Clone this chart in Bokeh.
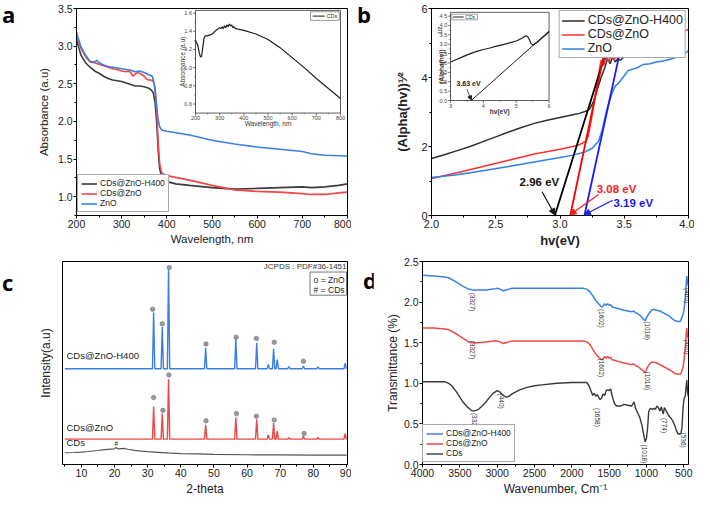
import math
from bokeh.plotting import figure
from bokeh.models import (Range1d, SingleIntervalTicker, FixedTicker, Legend, LegendItem, Label,
                          Arrow, NormalHead, PrintfTickFormatter, Div)
from bokeh.layouts import row, column
from bokeh.core.properties import value
from bokeh.embed import file_html
from bokeh.resources import INLINE

FONT = "Liberation Sans"
LETTER_FONT = "Open Sans"

# ---------------- Panel a : UV-Vis absorbance ----------------
a_wl_h400 = [200, 205, 210, 220, 230, 240, 250, 260, 270, 280, 290, 300, 310, 320, 330, 340, 350, 360, 365,
             370, 374, 378, 381, 384, 388, 392, 400, 420, 450, 500, 550, 600, 650, 700, 720, 750, 780, 800]
a_abs_h400 = [3.08, 2.98, 2.88, 2.78, 2.72, 2.67, 2.64, 2.60, 2.57, 2.55, 2.54, 2.53, 2.51, 2.49, 2.47, 2.47, 2.46,
              2.44, 2.42, 2.38, 2.25, 1.95, 1.60, 1.38, 1.27, 1.23, 1.20, 1.17, 1.15, 1.12, 1.10, 1.11, 1.12, 1.13,
              1.12, 1.13, 1.15, 1.17]
a_wl_cdzno = [200, 205, 210, 220, 230, 240, 250, 260, 270, 280, 290, 300, 310, 315, 320, 325, 330, 335, 340, 345,
              350, 355, 360, 365, 370, 374, 378, 381, 384, 388, 392, 400, 450, 500, 550, 600, 650, 700, 720, 750,
              780, 800]
a_abs_cdzno = [3.13, 3.05, 2.97, 2.86, 2.79, 2.78, 2.76, 2.74, 2.72, 2.70, 2.69, 2.67, 2.66, 2.67, 2.65, 2.60, 2.63,
               2.65, 2.64, 2.62, 2.60, 2.56, 2.55, 2.55, 2.53, 2.45, 2.10, 1.70, 1.45, 1.33, 1.30, 1.28, 1.22, 1.15,
               1.09, 1.07, 1.06, 1.04, 1.03, 1.03, 1.05, 1.06]
a_wl_zno = [200, 205, 210, 220, 230, 240, 245, 250, 260, 270, 280, 290, 300, 310, 320, 330, 340, 350, 360, 368, 372,
            376, 380, 384, 388, 392, 400, 420, 450, 500, 550, 600, 650, 700, 720, 750, 800]
a_abs_zno = [3.18, 3.08, 2.99, 2.88, 2.80, 2.79, 2.81, 2.78, 2.75, 2.73, 2.72, 2.71, 2.70, 2.69, 2.68, 2.66, 2.67,
             2.65, 2.62, 2.60, 2.50, 2.30, 2.05, 1.93, 1.89, 1.88, 1.87, 1.85, 1.82, 1.75, 1.70, 1.66, 1.63, 1.60,
             1.57, 1.55, 1.54]
# inset: CDs
a_in_wl = [200, 205, 210, 215, 220, 225, 230, 235, 240, 250, 260, 270, 280, 290, 300, 305, 310, 315, 320, 325, 330,
           335, 340, 345, 350, 355, 360, 365, 370, 380, 400, 450, 500, 550, 600, 650, 700, 750, 800]
a_in_abs = [1.30, 1.27, 1.24, 1.17, 1.12, 1.12, 1.22, 1.32, 1.35, 1.35, 1.36, 1.37, 1.40, 1.42, 1.44, 1.43, 1.45,
            1.43, 1.46, 1.44, 1.47, 1.45, 1.48, 1.46, 1.47, 1.44, 1.45, 1.43, 1.43, 1.42, 1.41, 1.37, 1.31, 1.22,
            1.11, 1.00, 0.88, 0.77, 0.66]
a_in_xticks = [200, 300, 400, 500, 600, 700, 800]
a_in_yticks = [0.6, 0.8, 1.0, 1.2, 1.4, 1.6]

# ---------------- Panel b : Tauc plot ----------------
b_hv_h400 = [2.0, 2.1, 2.2, 2.3, 2.4, 2.5, 2.6, 2.7, 2.8, 2.9, 3.0, 3.1, 3.15, 3.2, 3.23, 3.26, 3.29, 3.32, 3.35,
             3.37, 3.39, 3.41, 3.43, 3.45, 3.47, 3.5]
b_val_h400 = [1.65, 1.76, 1.88, 2.00, 2.14, 2.28, 2.42, 2.55, 2.67, 2.76, 2.84, 2.92, 2.96, 3.02, 3.08, 3.30, 3.65,
              4.00, 4.30, 4.55, 4.40, 4.60, 4.45, 4.55, 4.50, 4.60]
b_hv_cdzno = [2.0, 2.2, 2.4, 2.6, 2.8, 3.0, 3.1, 3.15, 3.2, 3.22, 3.25, 3.28, 3.3, 3.32, 3.34, 3.36, 3.38, 3.4,
              3.42, 3.45, 3.48, 3.5, 3.55, 3.6, 3.7, 3.8, 3.9, 4.0]
b_val_cdzno = [1.07, 1.24, 1.42, 1.60, 1.78, 1.92, 2.00, 2.05, 2.15, 2.30, 2.90, 3.60, 4.10, 4.50, 4.35, 4.60, 4.45,
               4.70, 4.50, 4.75, 4.60, 4.85, 4.80, 4.95, 5.00, 5.10, 5.25, 5.40]
b_hv_zno = [2.0, 2.2, 2.4, 2.6, 2.8, 3.0, 3.1, 3.2, 3.25, 3.3, 3.33, 3.36, 3.4, 3.43, 3.46, 3.5, 3.53, 3.6, 3.65,
            3.7, 3.75, 3.8, 3.85, 3.9, 3.95, 4.0]
b_val_zno = [1.10, 1.18, 1.30, 1.42, 1.55, 1.68, 1.75, 1.85, 1.95, 2.15, 2.50, 3.00, 3.50, 3.75, 3.85, 4.05, 4.20,
             4.28, 4.38, 4.40, 4.45, 4.48, 4.52, 4.58, 4.63, 4.78]
b_tan_h400_x = [2.96, 3.38]
b_tan_h400_y = [0.0, 5.0]
b_tan_cdzno_x = [3.08, 3.35]
b_tan_cdzno_y = [0.0, 4.8]
b_tan_zno_x = [3.19, 3.47]
b_tan_zno_y = [0.0, 4.8]
b_gap_labels = ["2.96 eV", "3.08 eV", "3.19 eV"]
# inset: CDs
b_in_hv = [3.0, 3.2, 3.4, 3.6, 3.8, 4.0, 4.2, 4.4, 4.6, 4.8, 5.0, 5.1, 5.2, 5.25, 5.3, 5.35, 5.4, 5.45, 5.5, 5.6,
           5.7, 5.8, 5.9, 6.0]
b_in_val = [2.05, 2.20, 2.35, 2.50, 2.62, 2.72, 2.80, 2.90, 2.98, 3.07, 3.17, 3.25, 3.35, 3.42, 3.45, 3.40, 3.25,
            3.05, 2.95, 3.05, 3.20, 3.35, 3.50, 3.68]
b_in_tan_x = [3.63, 6.0]
b_in_tan_y = [0.0, 3.7]
b_in_xticks = [3, 4, 5, 6]
b_in_yticks = [0.0, 0.5, 1.0, 1.5, 2.0, 2.5, 3.0, 3.5, 4.0, 4.5]

# ---------------- Panel c : XRD ----------------
c_peaks = [31.8, 34.4, 36.3, 47.5, 56.6, 62.9, 66.4, 68.0, 69.1, 72.6, 77.0, 81.4, 89.6]
c_top_h400 = [74.9, 67.8, 95.9, 57.5, 62.2, 59.9, 49.3, 57.0, 51.7, 48.2, 48.5, 48.1, 49.9]
c_base_h400 = 47.2
c_top_cdzno = [28.6, 25.1, 42.0, 19.6, 23.1, 22.3, 14.5, 20.4, 16.4, 13.2, 14.1, 13.3, 15.2]
c_base_cdzno = 12.5
c_cds_x = [5, 8, 10, 12, 15, 17, 19, 20, 20.5, 21, 22, 23, 24, 26, 28, 30, 33, 36, 40, 45, 50, 60, 70, 80, 90]
c_cds_y = [5.8, 5.9, 6.1, 6.4, 6.9, 7.3, 7.6, 7.7, 8.4, 7.7, 7.8, 7.9, 7.5, 7.0, 6.6, 6.3, 6.0, 5.7, 5.4, 5.2, 5.0,
           4.8, 4.7, 4.6, 4.6]
c_mark_h400_x = [31.5, 34.4, 36.5, 47.6, 56.7, 62.8, 68.2, 77.0]
c_mark_h400_y = [76.5, 69.3, 97.0, 59.4, 62.7, 62.1, 60.2, 50.9]
c_mark_cdzno_x = [31.8, 34.6, 36.4, 47.6, 56.8, 62.8, 68.2, 77.2]
c_mark_cdzno_y = [33.0, 26.7, 44.1, 21.5, 25.1, 23.8, 21.9, 15.3]

# ---------------- Panel d : FTIR ----------------
d_wn = [4000, 3850, 3700, 3650, 3550, 3450, 3380, 3327, 3250, 3150, 3050, 3000, 2960, 2920, 2880, 2840, 2800, 2600,
        2400, 2200, 2000, 1850, 1800, 1760, 1720, 1680, 1640, 1602, 1580, 1560, 1540, 1520, 1500, 1480, 1460, 1420,
        1380, 1340, 1300, 1250, 1200, 1170, 1150, 1120, 1080, 1050, 1018, 990, 960, 930, 900, 860, 820, 780, 740,
        700, 660, 620, 580, 550, 530, 510, 495, 480, 470, 460, 450, 440, 435]
d_t_h400 = [2.33, 2.32, 2.31, 2.30, 2.25, 2.19, 2.16, 2.15, 2.15, 2.15, 2.16, 2.17, 2.16, 2.14, 2.15, 2.16, 2.17,
            2.17, 2.17, 2.17, 2.17, 2.17, 2.16, 2.13, 2.08, 2.02, 1.98, 1.94, 1.95, 1.98, 1.96, 1.98, 1.96, 1.97,
            1.94, 1.93, 1.92, 1.91, 1.90, 1.89, 1.88, 1.89, 1.87, 1.86, 1.83, 1.80, 1.77, 1.82, 1.87, 1.90, 1.91,
            1.90, 1.89, 1.87, 1.85, 1.83, 1.80, 1.77, 1.76, 1.76, 1.80, 1.85, 1.92, 2.05, 2.20, 2.32, 2.24, 2.20,
            2.22]
d_t_cdzno = [1.68, 1.68, 1.67, 1.66, 1.61, 1.55, 1.51, 1.50, 1.50, 1.51, 1.52, 1.52, 1.51, 1.49, 1.50, 1.51, 1.52,
             1.52, 1.52, 1.52, 1.52, 1.52, 1.51, 1.48, 1.42, 1.36, 1.32, 1.29, 1.30, 1.33, 1.31, 1.33, 1.31, 1.32,
             1.29, 1.28, 1.27, 1.26, 1.25, 1.24, 1.23, 1.24, 1.22, 1.21, 1.18, 1.16, 1.13, 1.19, 1.24, 1.26, 1.26,
             1.25, 1.23, 1.21, 1.19, 1.17, 1.15, 1.12, 1.11, 1.11, 1.14, 1.20, 1.30, 1.45, 1.58, 1.68, 1.58, 1.55,
             1.57]
d_wn_cds = [4000, 3800, 3700, 3650, 3600, 3550, 3500, 3450, 3400, 3350, 3327, 3300, 3250, 3200, 3150, 3100, 3050,
            3000, 2960, 2920, 2880, 2840, 2800, 2700, 2600, 2500, 2400, 2200, 2000, 1850, 1800, 1770, 1740, 1720,
            1700, 1680, 1658, 1640, 1620, 1600, 1580, 1560, 1540, 1520, 1500, 1480, 1460, 1440, 1420, 1400, 1350,
            1300, 1250, 1200, 1180, 1165, 1150, 1120, 1090, 1060, 1040, 1018, 1000, 985, 970, 950, 920, 900, 880,
            860, 840, 820, 800, 790, 774, 760, 740, 720, 700, 680, 650, 620, 600, 580, 560, 540, 525, 510, 495, 480,
            470, 460, 450, 440, 435]
d_t_cds = [1.02, 1.02, 1.02, 1.00, 0.96, 0.90, 0.83, 0.76, 0.71, 0.67, 0.66, 0.66, 0.68, 0.72, 0.77, 0.83, 0.88,
           0.91, 0.89, 0.85, 0.83, 0.84, 0.87, 0.92, 0.95, 0.97, 0.98, 1.00, 1.01, 1.01, 1.01, 0.97, 0.90, 0.85,
           0.88, 0.84, 0.86, 0.83, 0.80, 0.82, 0.87, 0.85, 0.91, 0.92, 0.91, 0.93, 0.85, 0.78, 0.74, 0.72, 0.72,
           0.74, 0.73, 0.72, 0.75, 0.77, 0.70, 0.64, 0.58, 0.48, 0.38, 0.28, 0.32, 0.45, 0.65, 0.69, 0.68, 0.69,
           0.68, 0.72, 0.70, 0.66, 0.71, 0.67, 0.62, 0.70, 0.67, 0.63, 0.60, 0.58, 0.54, 0.48, 0.42, 0.38, 0.37,
           0.38, 0.45, 0.70, 0.82, 0.84, 0.95, 1.04, 0.90, 0.84, 0.84]
d_lab_text = ["(3327)", "(1602)", "(1018)", "(460)",
              "(3327)", "(1602)", "(1018)", "(460)",
              "(3327)", "(440)", "(1658)", "(1018)", "(774)", "(536)"]
d_lab_x = [3325, 1605, 990, 450, 3325, 1605, 990, 450, 3304, 2937, 1660, 1027, 753, 500]
d_lab_y = [2.00, 1.80, 1.65, 2.08, 1.41, 1.19, 1.03, 1.45, 0.52, 0.78, 0.58, 0.13, 0.48, 0.30]


# ---------------- helpers ----------------
def make_fig(w, h, xr, yr, bl, br, bt, bb):
    p = figure(width=w, height=h, x_range=xr, y_range=yr, output_backend="svg",
               toolbar_location=None, min_border_left=bl, min_border_right=br,
               min_border_top=bt, min_border_bottom=bb)
    p.grid.visible = False
    p.outline_line_color = "black"
    p.outline_line_width = 1
    p.outline_line_alpha = 1
    p.background_fill_color = "white"
    p.border_fill_color = "white"
    return p


def style_axis(ax, label, label_size="12px", tick_size="10.5px", bold=False):
    ax.axis_label = label
    ax.axis_line_color = "black"
    ax.major_tick_line_color = "black"
    ax.minor_tick_line_color = "black"
    ax.major_tick_out = 3
    ax.major_tick_in = 0
    ax.minor_tick_out = 2
    ax.minor_tick_in = 0
    ax.major_label_text_font = FONT
    ax.major_label_text_font_size = tick_size
    ax.major_label_text_color = "#222222"
    ax.major_label_standoff = 1
    ax.axis_label_text_font = FONT
    ax.axis_label_text_font_size = label_size
    ax.axis_label_text_font_style = "bold" if bold else "normal"
    ax.axis_label_text_color = "#222222"
    ax.axis_label_standoff = 2


def inset_range(m0, m1, p0, p1, d0, d1):
    k = (d1 - d0) / (p1 - p0)
    return Range1d(d0 - (p0 - m0) * k, d1 + (m1 - p1) * k)


def draw_inset_axes(p, xn, yn, x0, x1, y0, y1, xticks, yticks, xminor, yminor, xlab,
                    xfmt, yfmt, pxw, pxh, bold=False):
    ux = (x1 - x0) / pxw
    uy = (y1 - y0) / pxh
    p.quad(left=[x0], right=[x1], bottom=[y0], top=[y1], fill_color="white", line_color="#333333",
           line_width=0.8, x_range_name=xn, y_range_name=yn)
    p.segment(x0=xticks, x1=xticks, y0=[y0] * len(xticks), y1=[y0 - 2.5 * uy] * len(xticks),
              line_color="#333333", line_width=0.7, x_range_name=xn, y_range_name=yn)
    p.segment(x0=[x0] * len(yticks), x1=[x0 - 2.5 * ux] * len(yticks), y0=yticks, y1=yticks,
              line_color="#333333", line_width=0.7, x_range_name=xn, y_range_name=yn)
    p.segment(x0=xminor, x1=xminor, y0=[y0] * len(xminor), y1=[y0 - 1.3 * uy] * len(xminor),
              line_color="#333333", line_width=0.6, x_range_name=xn, y_range_name=yn)
    p.segment(x0=[x0] * len(yminor), x1=[x0 - 1.3 * ux] * len(yminor), y0=yminor, y1=yminor,
              line_color="#333333", line_width=0.6, x_range_name=xn, y_range_name=yn)
    p.text(x=xticks, y=[y0 - 3.5 * uy] * len(xticks), text=[xfmt.format(t) for t in xticks],
           text_font=value(FONT), text_font_size="5.5px", text_color="#444444", text_align="center",
           text_baseline="top", x_range_name=xn, y_range_name=yn)
    p.text(x=[x0 - 3.5 * ux] * len(yticks), y=yticks, text=[yfmt.format(t) for t in yticks],
           text_font=value(FONT), text_font_size="5.5px", text_color="#444444", text_align="right",
           text_baseline="middle", x_range_name=xn, y_range_name=yn)
    p.text(x=[(x0 + x1) / 2], y=[y0 - 11 * uy], text=[xlab], text_font=value(FONT),
           text_font_size="6.5px", text_color="#333333", text_align="center", text_baseline="middle",
           text_font_style="bold" if bold else "normal", x_range_name=xn, y_range_name=yn)
    return ux, uy


def add_legend(p, items, loc, size, gw, gh, margin=0, padding=3):
    lg = Legend(items=[LegendItem(label=t, renderers=[r]) for t, r in items], location=loc)
    lg.label_text_font = FONT
    lg.label_text_font_size = size
    lg.label_text_color = "#222222"
    lg.glyph_width = gw
    lg.glyph_height = gh
    lg.label_height = gh
    lg.label_standoff = 3
    lg.spacing = 0
    lg.padding = padding
    lg.margin = margin
    lg.border_line_color = "#555555"
    lg.border_line_width = 1
    lg.background_fill_color = "white"
    lg.background_fill_alpha = 1
    p.add_layout(lg)


def letter_div(txt, h, top, left=0):
    html = ('<div style="font-family:\'%s\';font-weight:bold;font-size:22px;line-height:28px;'
            'margin-top:%dpx;margin-left:%dpx;color:#000;">%s</div>' % (LETTER_FONT, top, left, txt))
    return Div(text=html, width=22, height=h, margin=0)


ROW1_H = 250
ROW2_H = 248
LW = 329   # left figures width
RW = 321   # right figures width

# ================= Panel a =================
A_X = (200, 800)
A_Y = (0.75, 3.5)
pa = make_fig(LW, ROW1_H, Range1d(*A_X), Range1d(*A_Y), 54, 4, 8, 30)
style_axis(pa.xaxis[0], "Wavelength, nm", label_size="11.5px")
style_axis(pa.yaxis[0], "Absorbance (a.u)", label_size="11.5px")
pa.xaxis[0].ticker = SingleIntervalTicker(interval=100, num_minor_ticks=2)
pa.yaxis[0].ticker = SingleIntervalTicker(interval=0.5, num_minor_ticks=2)
pa.yaxis[0].formatter = PrintfTickFormatter(format="%.1f")
pa.yaxis[0].axis_label_standoff = 5

ra1 = pa.line(a_wl_h400, a_abs_h400, line_color="#3c3c3c", line_width=1.6)
ra2 = pa.line(a_wl_cdzno, a_abs_cdzno, line_color="#f24646", line_width=1.6)
ra3 = pa.line(a_wl_zno, a_abs_zno, line_color="#3a7fe3", line_width=1.6)
add_legend(pa, [("CDs@ZnO-H400", ra1), ("CDs@ZnO", ra2), ("ZnO", ra3)], (1, 3), "8.5px", 16, 9)

# inset a (placed in main data coordinates)
pa.extra_x_ranges = {"ix": inset_range(200, 800, 463.5, 784.5, 200, 800)}
pa.extra_y_ranges = {"iy": inset_range(0.75, 3.5, 2.111, 3.475, 0.5, 1.63)}
ux, uy = draw_inset_axes(pa, "ix", "iy", 200, 800, 0.5, 1.63, a_in_xticks, a_in_yticks,
                         [250, 350, 450, 550, 650, 750], [0.7, 0.9, 1.1, 1.3, 1.5],
                         "Wavelength, nm", "{:d}", "{:.1f}", 145, 108)
pa.line(a_in_wl, a_in_abs, line_color="#1e1e1e", line_width=1.2, x_range_name="ix", y_range_name="iy")
pa.text(x=[200 - 13 * ux], y=[1.065], text=["Absorbance (a.u)"], angle=math.pi / 2,
        text_font=value(FONT), text_font_size="6.5px", text_color="#333333", text_align="center",
        text_baseline="middle", x_range_name="ix", y_range_name="iy")
pa.quad(left=[676], right=[795], top=[1.615], bottom=[1.52], fill_color="white", line_color="#555555",
        line_width=0.6, x_range_name="ix", y_range_name="iy")
pa.segment(x0=[685], x1=[735], y0=[1.567], y1=[1.567], line_color="#1e1e1e", line_width=1,
           x_range_name="ix", y_range_name="iy")
pa.text(x=[742], y=[1.567], text=["CDs"], text_font=value(FONT), text_font_size="5.5px",
        text_color="#333333", text_baseline="middle", x_range_name="ix", y_range_name="iy")

# ================= Panel b =================
B_X = (2.0, 4.0)
B_Y = (0.0, 6.0)
pb = make_fig(RW, ROW1_H, Range1d(*B_X), Range1d(*B_Y), 58, 6, 7, 30)
style_axis(pb.xaxis[0], "hv(eV)", label_size="13px", tick_size="11px", bold=True)
style_axis(pb.yaxis[0], "(Alpha(hv))\u00b9\u2044\u00b2", label_size="13px", tick_size="11px", bold=True)
pb.xaxis[0].ticker = SingleIntervalTicker(interval=0.5, num_minor_ticks=2)
pb.xaxis[0].formatter = PrintfTickFormatter(format="%.1f")
pb.yaxis[0].ticker = SingleIntervalTicker(interval=2, num_minor_ticks=2)
pb.yaxis[0].axis_label_standoff = 8

rb1 = pb.line(b_hv_h400, b_val_h400, line_color="#2e2e2e", line_width=1.5)
rb2 = pb.line(b_hv_cdzno, b_val_cdzno, line_color="#ff3030", line_width=1.5)
rb3 = pb.line(b_hv_zno, b_val_zno, line_color="#2f7fe8", line_width=1.5)
pb.line(b_tan_h400_x, b_tan_h400_y, line_color="#000000", line_width=1.8)
pb.line(b_tan_cdzno_x, b_tan_cdzno_y, line_color="#ff0000", line_width=1.8)
pb.line(b_tan_zno_x, b_tan_zno_y, line_color="#1a1aff", line_width=1.8)
add_legend(pb, [("CDs@ZnO-H400", rb1), ("CDs@ZnO", rb2), ("ZnO", rb3)], "top_right", "12.5px", 23, 13,
           margin=2, padding=2)

gap_cols = ["#111111", "#ff1a1a", "#1a1aee"]
gap_tx = [2.84, 3.44, 3.57]
gap_ty = [0.97, 0.78, 0.36]
arr_sx = [2.86, 3.30, 3.41]
arr_sy = [0.69, 0.61, 0.44]
gap_x = [b_tan_h400_x[0], b_tan_cdzno_x[0], b_tan_zno_x[0]]
for t, c, tx, ty, sx, sy, gx in zip(b_gap_labels, gap_cols, gap_tx, gap_ty, arr_sx, arr_sy, gap_x):
    pb.add_layout(Label(x=tx, y=ty, text=t, text_font=FONT, text_font_size="11.5px", text_font_style="bold",
                        text_color=c, text_align="center", text_baseline="middle"))
    pb.add_layout(Arrow(end=NormalHead(size=6, fill_color=c, line_color=c), x_start=sx, y_start=sy,
                        x_end=gx, y_end=0.02, line_color=c, line_width=1.2))

# inset b
pb.extra_x_ranges = {"ix": inset_range(2.0, 4.0, 2.148, 2.915, 3.0, 6.0)}
pb.extra_y_ranges = {"iy": inset_range(0.0, 6.0, 3.333, 5.889, 0.0, 4.7)}
ux, uy = draw_inset_axes(pb, "ix", "iy", 3.0, 6.0, 0.0, 4.7, b_in_xticks, b_in_yticks,
                         [3.5, 4.5, 5.5], [0.25, 0.75, 1.25, 1.75, 2.25, 2.75, 3.25, 3.75, 4.25],
                         "hv(eV)", "{:d}", "{:.1f}", 104, 92, bold=True)
pb.line(b_in_hv, b_in_val, line_color="#1e1e1e", line_width=1.2, x_range_name="ix", y_range_name="iy")
pb.line(b_in_tan_x, b_in_tan_y, line_color="#1e1e1e", line_width=1.0, x_range_name="ix", y_range_name="iy")
pb.text(x=[3.0 - 9 * ux], y=[0.9], text=["(Alpha(hv))"], angle=math.pi / 2, text_font=value(FONT),
        text_font_size="6.5px", text_font_style="bold", text_color="#333333", text_align="left",
        text_baseline="middle", x_range_name="ix", y_range_name="iy")
pb.text(x=[3.0 - 11 * ux], y=[3.55], text=["1/2"], angle=math.pi / 2, text_font=value(FONT),
        text_font_size="5px", text_font_style="bold", text_color="#333333", text_align="left",
        text_baseline="middle", x_range_name="ix", y_range_name="iy")
pb.text(x=[3.55], y=[0.93], text=["3.63 eV"], text_font=value(FONT), text_font_size="7px",
        text_font_style="bold", text_color="#222222", text_align="center", text_baseline="middle",
        x_range_name="ix", y_range_name="iy")
pb.add_layout(Arrow(end=NormalHead(size=4, fill_color="#222222", line_color="#222222"), x_start=3.5,
                    y_start=0.6, x_end=b_in_tan_x[0], y_end=0.03, line_color="#222222", line_width=0.8,
                    x_range_name="ix", y_range_name="iy"))
pb.quad(left=[3.04], right=[3.82], top=[4.6], bottom=[4.3], fill_color="white", line_color="#666666",
        line_width=0.6, x_range_name="ix", y_range_name="iy")
pb.segment(x0=[3.08], x1=[3.4], y0=[4.45], y1=[4.45], line_color="#1e1e1e", line_width=1,
           x_range_name="ix", y_range_name="iy")
pb.text(x=[3.45], y=[4.45], text=["CDs"], text_font=value(FONT), text_font_size="5px",
        text_color="#333333", text_baseline="middle", x_range_name="ix", y_range_name="iy")

# ================= Panel c =================
C_X = (4.3, 90.3)
C_Y = (0.0, 100.0)
pc = make_fig(LW, ROW2_H, Range1d(*C_X), Range1d(*C_Y), 40, 4, 11, 30)
style_axis(pc.xaxis[0], "2-theta", label_size="12px")
style_axis(pc.yaxis[0], "Intensity(a.u)", label_size="12px")
pc.xaxis[0].ticker = SingleIntervalTicker(interval=10, num_minor_ticks=2)
pc.yaxis[0].ticker = FixedTicker(ticks=[])
pc.yaxis[0].axis_label_standoff = 10


def xrd_line(base, tops):
    xs, ys = [5.0], [base]
    for pk, t in zip(c_peaks, tops):
        xs += [pk - 0.35, pk, pk + 0.35]
        ys += [base, t, base]
    xs.append(90.0)
    ys.append(base)
    return xs, ys


hx, hy = xrd_line(c_base_h400, c_top_h400)
zx, zy = xrd_line(c_base_cdzno, c_top_cdzno)
pc.line(hx, hy, line_color="#3a7fe0", line_width=1.4)
pc.line(zx, zy, line_color="#f04545", line_width=1.4)
pc.line(c_cds_x, c_cds_y, line_color="#555555", line_width=1.2)
pc.scatter(c_mark_h400_x, c_mark_h400_y, size=4.5, fill_color="#9a9a9a", line_color="#777777",
           line_width=0.6)
pc.scatter(c_mark_cdzno_x, c_mark_cdzno_y, size=4.5, fill_color="#9a9a9a", line_color="#777777",
           line_width=0.6)
pc.text(x=[5.5, 5.5, 5.5], y=[51.2, 15.6, 8.3], text=["CDs@ZnO-H400", "CDs@ZnO", "CDs"],
        text_font=value(FONT), text_font_size="9.5px", text_color="#222222", text_baseline="bottom")
pc.text(x=[20.5], y=[8.6], text=["#"], text_font=value(FONT), text_font_size="6.5px",
        text_color="#222222", text_align="center", text_baseline="bottom")
pc.text(x=[90.0], y=[97.6], text=["JCPDS : PDF#36-1451"], text_font=value(FONT), text_font_size="8px",
        text_color="#333333", text_align="right", text_baseline="middle")
pc.quad(left=[79.0], right=[90.0], top=[94.8], bottom=[83.4], fill_color="white", line_color="#555555",
        line_width=0.8)
pc.text(x=[89.4, 89.4], y=[91.0, 86.2], text=["o = ZnO", "# = CDs"], text_font=value(FONT),
        text_font_size="8.5px", text_color="#222222", text_align="right", text_baseline="middle")

# ================= Panel d =================
D_X = (4000, 437)
D_Y = (0.0, 2.5)
pd = make_fig(RW, ROW2_H, Range1d(*D_X), Range1d(*D_Y), 49, 6, 7, 30)
style_axis(pd.xaxis[0], "Wavenumber, Cm\u207b\u00b9", label_size="12px")
style_axis(pd.yaxis[0], "Transmittance (%)", label_size="12px")
pd.xaxis[0].ticker = SingleIntervalTicker(interval=500, num_minor_ticks=2)
pd.yaxis[0].ticker = SingleIntervalTicker(interval=0.5, num_minor_ticks=2)
pd.yaxis[0].formatter = PrintfTickFormatter(format="%.1f")
pd.yaxis[0].axis_label_standoff = 1

rd1 = pd.line(d_wn, d_t_h400, line_color="#3b80e6", line_width=1.5)
rd2 = pd.line(d_wn, d_t_cdzno, line_color="#f04a4a", line_width=1.5)
rd3 = pd.line(d_wn_cds, d_t_cds, line_color="#3a3a3a", line_width=1.4)
pd.text(x=d_lab_x, y=d_lab_y, text=d_lab_text, angle=-math.pi / 2, text_font=value(FONT),
        text_font_size="6.5px", text_color="#333333", text_align="center", text_baseline="middle")
add_legend(pd, [("CDs@ZnO-H400", rd1), ("CDs@ZnO", rd2), ("CDs", rd3)], (0, 2), "8.5px", 17, 9)

layout = column(
    row(letter_div("a", ROW1_H, 0, 2), pa, letter_div("b", ROW1_H, 0, 6), pb),
    row(letter_div("c", ROW2_H, 18, 2), pc, letter_div("d", ROW2_H, 16, 12), pd),
)
open("out.html", "w").write(file_html(layout, INLINE))
